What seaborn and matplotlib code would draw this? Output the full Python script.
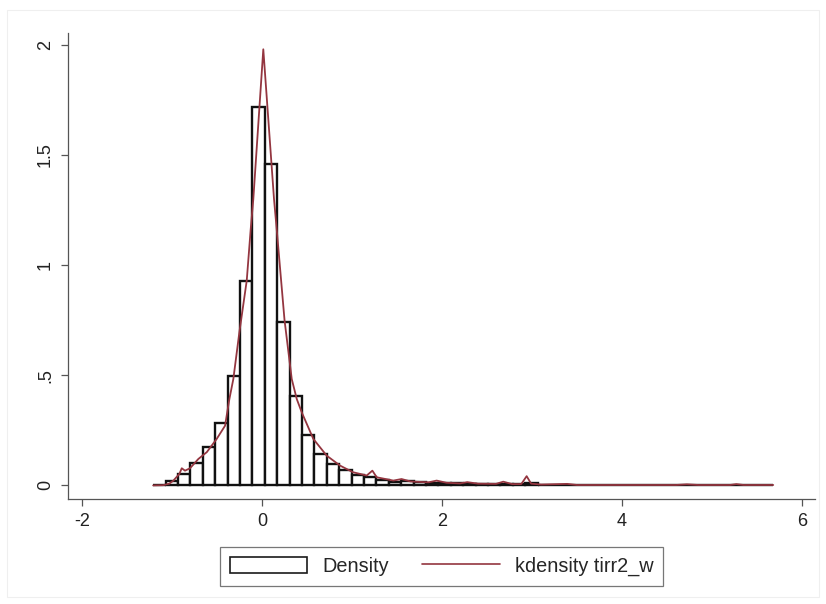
import numpy as np
import pandas as pd
import matplotlib.pyplot as plt
import seaborn as sns
from matplotlib.patches import Patch, Rectangle
from matplotlib.lines import Line2D

# histogram: 50 bins from the minimum, heights read as densities
bin_start = -1.21
bin_width = 0.1378
bar_heights = [0.003, 0.018, 0.054, 0.102, 0.176, 0.283, 0.495, 0.929, 1.72, 1.459,
               0.740, 0.408, 0.229, 0.143, 0.098, 0.068, 0.046, 0.040, 0.025, 0.017,
               0.022, 0.015, 0.012, 0.010, 0.009, 0.008, 0.006, 0.005, 0.006, 0.005,
               0.012, 0.003, 0.002, 0.002, 0.001, 0.001, 0.001, 0.001, 0.001, 0.001,
               0.001, 0.001, 0.001, 0.001, 0.001, 0.001, 0.001, 0.001, 0.001, 0.001]

# kdensity curve
kde_x = [-1.21, -1.10, -1.03, -0.985, -0.919, -0.892, -0.856, -0.80, -0.708, -0.614,
         -0.504, -0.411, -0.363, -0.319, -0.252, -0.17, -0.126, -0.097, 0.014, 0.133,
         0.163, 0.25, 0.33, 0.386, 0.441, 0.57, 0.719, 0.867, 1.01, 1.163,
         1.226, 1.274, 1.459, 1.55, 1.65, 1.85, 1.94, 2.05, 2.2, 2.28,
         2.4, 2.6, 2.68, 2.78, 2.88, 2.94, 2.99, 3.1, 3.39, 3.5,
         4.0, 4.6, 4.72, 4.85, 5.2, 5.27, 5.35, 5.68]
kde_y = [0.0, 0.001, 0.008, 0.022, 0.052, 0.078, 0.067, 0.078, 0.120, 0.151,
         0.211, 0.271, 0.392, 0.483, 0.695, 0.93, 1.163, 1.30, 1.98, 1.30,
         1.163, 0.75, 0.483, 0.392, 0.332, 0.211, 0.135, 0.090, 0.060, 0.045,
         0.067, 0.037, 0.022, 0.029, 0.018, 0.014, 0.022, 0.012, 0.009, 0.015,
         0.008, 0.007, 0.017, 0.006, 0.006, 0.042, 0.008, 0.004, 0.007, 0.002,
         0.002, 0.002, 0.005, 0.002, 0.002, 0.006, 0.002, 0.002]

x_ticks = [-2, 0, 2, 4, 6]
x_labels = ['-2', '0', '2', '4', '6']
y_ticks = [0, 0.5, 1, 1.5, 2]
y_labels = ['0', '.5', '1', '1.5', '2']
legend_labels = ['Density', 'kdensity tirr2_w']

sns.set_style('white')
plt.rcParams['font.family'] = ['Liberation Sans', 'DejaVu Sans']

line_color = '#943640'

n_bins = len(bar_heights)
centers = bin_start + bin_width * (np.arange(n_bins) + 0.5)
hist_df = pd.DataFrame({'x': centers, 'h': bar_heights})
kde_df = pd.DataFrame({'x': kde_x, 'y': kde_y})

fig = plt.figure(figsize=(8.26, 6.04), dpi=100)
ax = fig.add_axes([68 / 826, 1 - 499.3 / 604, (815 - 68) / 826, (499.3 - 33) / 604])

sns.histplot(data=hist_df, x='x', weights='h', binwidth=bin_width,
             binrange=(bin_start, bin_start + bin_width * n_bins), stat='count',
             color='white', edgecolor='#111111', linewidth=1.7, alpha=1, ax=ax)
sns.lineplot(data=kde_df, x='x', y='y', color=line_color, linewidth=1.3, ax=ax)

ax.set_xlim(-2.156, 6.144)
ax.set_ylim(-0.063, 2.054)
ax.set_xticks(x_ticks)
ax.set_xticklabels(x_labels, fontsize=13)
ax.set_yticks(y_ticks)
ax.set_yticklabels(y_labels, fontsize=13, rotation=90, va='center')
ax.set_xlabel('')
ax.set_ylabel('')
for s in ['top', 'right']:
    ax.spines[s].set_visible(False)
for s in ['left', 'bottom']:
    ax.spines[s].set_color('#555555')
    ax.spines[s].set_linewidth(0.9)
ax.tick_params(axis='both', direction='out', length=5, width=0.9, color='#555555',
               labelcolor='#222222', pad=5, left=True, bottom=True)

handles = [Patch(facecolor='white', edgecolor='#1a1a1a', linewidth=1.2),
           Line2D([0], [0], color=line_color, linewidth=1.2)]
leg = fig.legend(handles, legend_labels, loc='center', ncol=2,
                 bbox_to_anchor=(441.5 / 826, 1 - 566.5 / 604), fontsize=14.3,
                 frameon=True, fancybox=False, handlelength=3.9, handleheight=0.9,
                 handletextpad=0.75, columnspacing=1.7, borderpad=0.5,
                 borderaxespad=0)
leg.get_frame().set_edgecolor('#555555')
leg.get_frame().set_linewidth(0.9)

# faint outer graph region border
fig.patches.append(Rectangle((7 / 826, 1 - 597 / 604), 812 / 826, 587 / 604,
                             transform=fig.transFigure, fill=False,
                             edgecolor='#efefef', linewidth=0.8))

fig.savefig('out.png', dpi=100)
